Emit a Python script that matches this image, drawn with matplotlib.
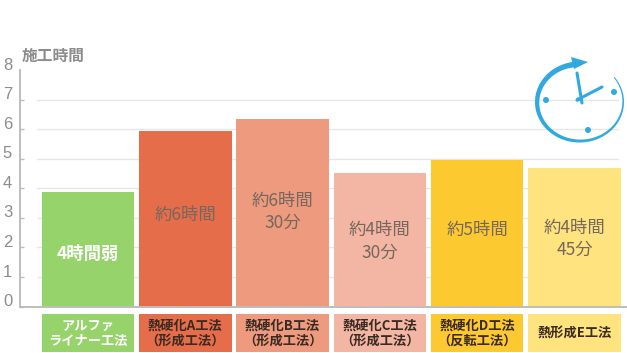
import matplotlib
matplotlib.use('Agg')
import matplotlib.pyplot as plt
import numpy as np
from matplotlib.patches import Circle, Ellipse, Polygon

plt.rcParams['font.family'] = ['Noto Sans CJK JP', 'DejaVu Sans']

title = '施工時間'
methods = ['アルファ\nライナー工法', '熱硬化A工法\n\uff08形成工法\uff09', '熱硬化B工法\n\uff08形成工法\uff09',
           '熱硬化C工法\n\uff08形成工法\uff09', '熱硬化D工法\n\uff08反転工法\uff09', '熱形成E工法']
hours = [3.87, 5.95, 6.35, 4.5, 4.97, 4.7]
bar_labels = ['4時間弱', '約6時間', '約6時間\n30分', '約4時間\n30分', '約5時間', '約4時間\n45分']
colors = ['#96d36b', '#e66d4a', '#ee9a7e', '#f4b6a4', '#fcc930', '#fee37e']
label_colors = ['#ffffff', '#3a2a22', '#3a2a22', '#3a2a22', '#3a2a22', '#3a2a22']
yticks = [0, 1, 2, 3, 4, 5, 6, 7, 8]
label_nudge = [-0.15, 0.12, 0.03, -0.05, 0.12, -0.05]

W, H = 627, 353
fig = plt.figure(figsize=(W / 100, H / 100), dpi=100)

# axes placed so that y=0 sits on the base line of the reference
ax = fig.add_axes([20 / W, (H - 306.5) / H, (W - 20) / W, 236.5 / H])
ax.set_xlim(-0.7, 5.54)
ax.set_ylim(0, 8)
for s in ['top', 'right']:
    ax.spines[s].set_visible(False)
ax.spines['left'].set_color('#bdbdbd')
ax.spines['left'].set_linewidth(1.4)
ax.spines['bottom'].set_color('#bdbdbd')
ax.spines['bottom'].set_linewidth(1.4)

for y in yticks[1:-1]:
    ax.plot([-0.53, 5.45], [y, y], color='#e6e6e6', lw=1, zorder=1)

xs = list(range(len(hours)))
ax.bar(xs, hours, width=0.95, color=colors, linewidth=0, zorder=2)

ax.set_xticks([])
ax.set_yticks(yticks[:-1])
ax.set_yticklabels([])
ax.tick_params(axis='y', length=3, width=1, color='#bdbdbd', direction='in')
for y in yticks:
    ax.annotate(str(y), (0, y), xycoords=('axes fraction', 'data'), xytext=(-9, 3.5),
                textcoords='offset points', ha='center', va='center',
                fontsize=12, color='#8c8c8c', family=['Liberation Sans', 'DejaVu Sans'])

for x, h, t, c, n in zip(xs, hours, bar_labels, label_colors, label_nudge):
    color = '#ffffff' if c == '#ffffff' else '#75675d'
    ax.text(x, h / 2 + n, t, ha='center', va='center', fontsize=12.5, color=color,
            fontweight='bold' if c == '#ffffff' else 'normal', linespacing=1.29, zorder=3)

# category boxes below the axis
for x, m, col, c in zip(xs, methods, colors, label_colors):
    ax.bar(x, 1.3, bottom=-1.55, width=0.95, color=col, clip_on=False, zorder=2)
    ax.text(x, -0.9, m, ha='center', va='center', fontsize=9.5, fontweight='bold',
            color=c, linespacing=1.08, clip_on=False, zorder=3)

fig.text(22 / W, 1 - 56 / H, title, ha='left', va='center', fontsize=11.3,
         fontweight='bold', color='#8c8c8c')

# clock icon, drawn in pixel coordinates
ic = fig.add_axes([0, 0, 1, 1], facecolor='none')
ic.set_xlim(0, W)
ic.set_ylim(H, 0)
ic.axis('off')
blue = '#2fa9e0'
# tapered ring, thin at the open end and thick behind the arrow head
t = np.radians(np.linspace(-38, 262, 160))
thick = np.linspace(1.0, 5.5, 160)
outer = np.c_[579.5 + 44.5 * np.cos(t), 102 + 40.5 * np.sin(t)]
inner = np.c_[579.5 + (44.5 - thick) * np.cos(t), 102 + (40.5 - thick) * np.sin(t)]
ic.add_patch(Polygon(np.vstack([outer, inner[::-1]]), closed=True, color=blue, lw=0))
ic.add_patch(Polygon([(571, 57), (588, 62), (574, 69)], closed=True, color=blue, lw=0))
for c in [(546, 100), (614, 92), (588, 130)]:
    ic.add_patch(Ellipse(c, 6, 6, color=blue, lw=0))
ic.plot([582, 577], [103, 73], color=blue, lw=2.2, solid_capstyle='round')
ic.plot([577, 602], [100, 87], color=blue, lw=2.2, solid_capstyle='round')
ic.add_patch(Circle((578, 99.5), 2, color=blue, lw=0))

fig.savefig('out.png', dpi=100)
